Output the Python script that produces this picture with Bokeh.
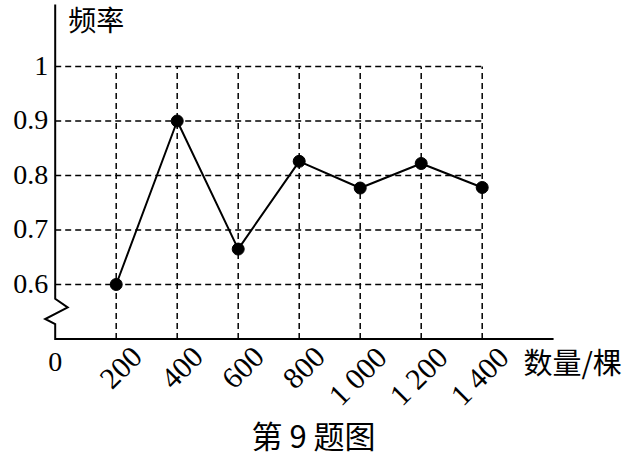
import math
from bokeh.plotting import figure
from bokeh.models import Range1d
from bokeh.core.properties import value
from bokeh.embed import file_html
from bokeh.resources import INLINE

# ---- data ----
counts = [200, 400, 600, 800, 1000, 1200, 1400]
freq = [0.60, 0.90, 0.665, 0.826, 0.777, 0.822, 0.778]
x_tick_labels = ["200", "400", "600", "800", "1 000", "1 200", "1 400"]
y_ticks = [0.6, 0.7, 0.8, 0.9, 1.0]
y_tick_labels = ["0.6", "0.7", "0.8", "0.9", "1"]
y_title = "频率"
x_title = "数量/棵"
caption = "第 9 题图"
origin_label = "0"

# ---- geometry ----
W, H = 624, 456
PX_X = 0.305   # pixels per unit of count
PX_Y = 545.0   # pixels per unit of frequency
X0_PX = 54.7   # canvas x of count 0
Y1_PX = 66.0   # canvas y of frequency 1


def dx(px):
    return px / PX_X


def dy(px):
    return px / PX_Y


x_start = -dx(X0_PX)
x_end = x_start + dx(W)
y_top = 1 + dy(Y1_PX)
y_bottom = y_top - dy(H)

y_base = 0.5          # level of the (broken) horizontal axis
x_axis_end = 1634
y_axis_top = 1 + dy(62)

SERIF = value("Liberation Serif")
CJK = value("Noto Sans CJK SC")

p = figure(width=W, height=H, output_backend="svg", toolbar_location=None,
           x_range=Range1d(x_start, x_end), y_range=Range1d(y_bottom, y_top),
           x_axis_type=None, y_axis_type=None, min_border=0,
           outline_line_color=None, background_fill_color="white",
           border_fill_color="white")
p.grid.visible = False

# dashed grid
p.segment(x0=[0] * len(y_ticks), y0=y_ticks, x1=[max(counts)] * len(y_ticks), y1=y_ticks,
          line_color="black", line_width=1.5, line_dash="6 4")
p.segment(x0=counts, y0=[y_base] * len(counts), x1=counts, y1=[max(y_ticks)] * len(counts),
          line_color="black", line_width=1.5, line_dash="6 4")

# axes with break mark
axis_x = [0, 0, dx(12.5), dx(-10), 0, 0, x_axis_end]
axis_y = [y_axis_top, y_base + dy(40.3), y_base + dy(31.6), y_base + dy(20), y_base + dy(15), y_base, y_base]
p.line(axis_x, axis_y, line_color="black", line_width=2, line_join="miter")

# data
p.line(counts, freq, line_color="black", line_width=2)
p.scatter(counts, freq, size=12, color="black")

# y tick labels
p.text(x=[dx(-7)] * len(y_ticks), y=[t + dy(1) for t in y_ticks], text=y_tick_labels,
       text_align="right", text_baseline="middle", text_font=SERIF,
       text_font_size="28px", text_color="black")

# x tick labels (rotated)
p.text(x=[c + dx(21) for c in counts], y=[y_base - dy(13)] * len(counts), text=x_tick_labels,
       angle=math.pi / 4, text_align="right", text_baseline="middle", text_font=SERIF,
       text_font_size="30px", text_color="black")

# origin
p.text(x=[0], y=[y_base - dy(22.7)], text=[origin_label], text_align="center",
       text_baseline="middle", text_font=SERIF, text_font_size="28px", text_color="black")

# titles
p.text(x=[dx(13)], y=[1 + dy(48)], text=[y_title], text_align="left", text_baseline="middle",
       text_font=CJK, text_font_size="28px", text_color="black")
p.text(x=[dx(468.3)], y=[y_base - dy(22)], text=[x_title], text_align="left", text_baseline="middle",
       text_font=CJK, text_font_size="29px", text_color="black")
p.text(x=[dx(258.3)], y=[y_base - dy(95)], text=[caption], text_align="center", text_baseline="middle",
       text_font=CJK, text_font_size="31px", text_color="black")

open("out.html", "w").write(file_html(p, INLINE))
